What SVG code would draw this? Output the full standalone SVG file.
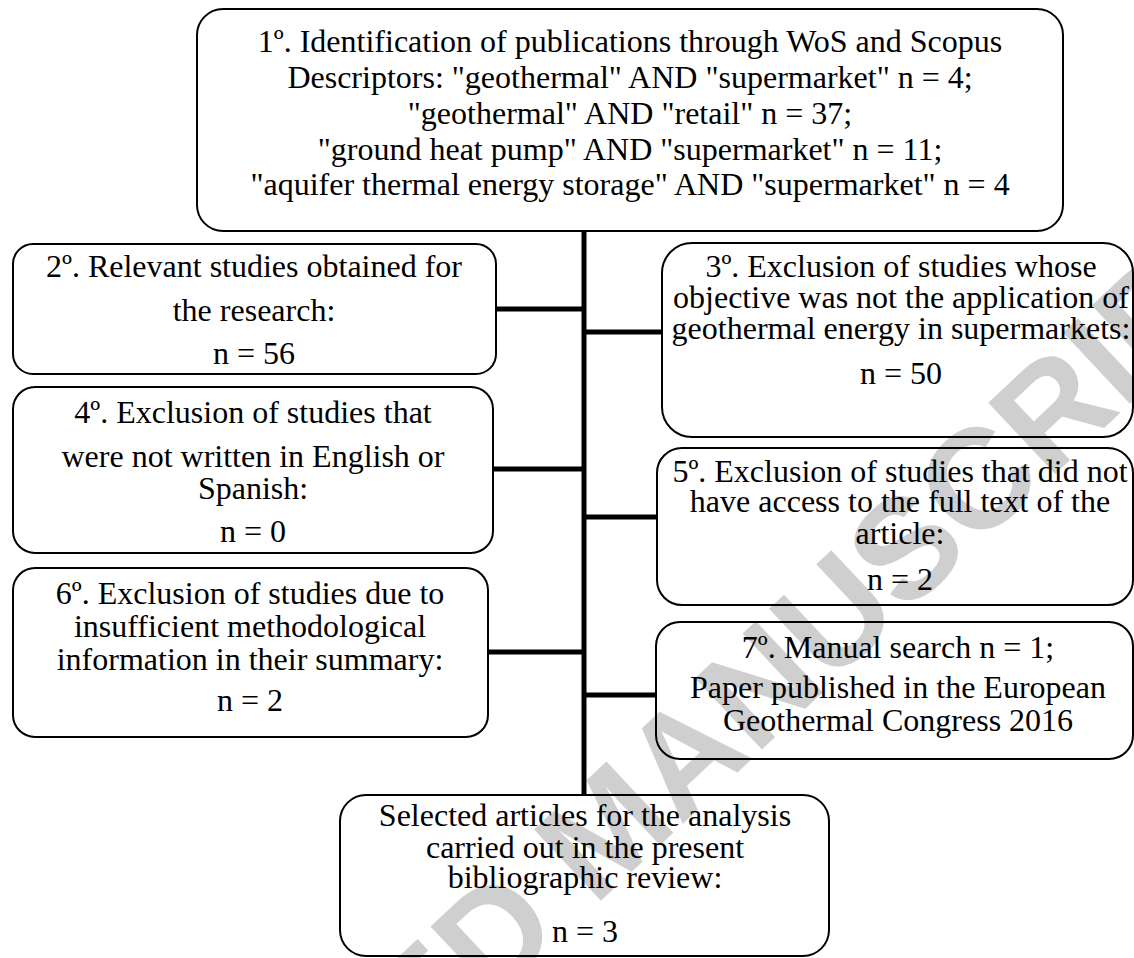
<svg xmlns="http://www.w3.org/2000/svg" width="1134" height="958" viewBox="0 0 1134 958">
<style>
.box{fill:none;stroke:#000;stroke-width:2}
.t{font-family:"Liberation Serif","Times New Roman",serif;font-size:32px;fill:#000;text-anchor:middle}
.c{stroke:#000;stroke-width:5;fill:none}
.wm{font-family:"Liberation Sans",Arial,sans-serif;font-weight:bold;font-size:142px;fill:#cfcfcf;text-anchor:middle}
</style>
<rect width="1134" height="958" fill="#fff"/>
<text class="wm" transform="translate(640,864) rotate(-43.2)">ACCEPTED MANUSCRIPT</text>
<g id="connectors">
<line class="c" x1="584" y1="231" x2="584" y2="795"/>
<line class="c" x1="496" y1="309" x2="584" y2="309"/>
<line class="c" x1="493" y1="469" x2="584" y2="469"/>
<line class="c" x1="488" y1="652" x2="584" y2="652"/>
<line class="c" x1="584" y1="332" x2="662" y2="332"/>
<line class="c" x1="584" y1="517" x2="657" y2="517"/>
<line class="c" x1="584" y1="695" x2="656" y2="695"/>
</g>
<g id="n1">
<rect class="box" x="197" y="9" width="866" height="222" rx="26"/>
<text class="t" x="630" y="52">1º. Identification of publications through WoS and Scopus</text>
<text class="t" x="630" y="88">Descriptors: "geothermal" AND "supermarket" n = 4;</text>
<text class="t" x="630" y="124">"geothermal" AND "retail" n = 37;</text>
<text class="t" x="630" y="160">"ground heat pump" AND "supermarket" n = 11;</text>
<text class="t" x="630" y="195">"aquifer thermal energy storage" AND "supermarket" n = 4</text>
</g>
<g id="n2">
<rect class="box" x="13" y="244" width="483" height="130" rx="20"/>
<text class="t" x="254" y="277">2º. Relevant studies obtained for</text>
<text class="t" x="254" y="321">the research:</text>
<text class="t" x="254" y="364">n = 56</text>
</g>
<g id="n4">
<rect class="box" x="13" y="387" width="480" height="166" rx="22"/>
<text class="t" x="253" y="423">4º. Exclusion of studies that</text>
<text class="t" x="253" y="467">were not written in English or</text>
<text class="t" x="253" y="499">Spanish:</text>
<text class="t" x="253" y="542">n = 0</text>
</g>
<g id="n6">
<rect class="box" x="13" y="568" width="475" height="169" rx="22"/>
<text class="t" x="250" y="604">6º. Exclusion of studies due to</text>
<text class="t" x="250" y="637">insufficient methodological</text>
<text class="t" x="250" y="670">information in their summary:</text>
<text class="t" x="250" y="711">n = 2</text>
</g>
<g id="n3">
<rect class="box" x="662" y="243" width="471" height="194" rx="30"/>
<text class="t" x="901" y="277">3º. Exclusion of studies whose</text>
<text class="t" x="901" y="308">objective was not the application of</text>
<text class="t" x="901" y="339">geothermal energy in supermarkets:</text>
<text class="t" x="901" y="384">n = 50</text>
</g>
<g id="n5">
<rect class="box" x="657" y="448" width="476" height="157" rx="25"/>
<text class="t" x="900" y="482">5º. Exclusion of studies that did not</text>
<text class="t" x="900" y="512">have access to the full text of the</text>
<text class="t" x="900" y="544">article:</text>
<text class="t" x="900" y="590">n = 2</text>
</g>
<g id="n7">
<rect class="box" x="656" y="622" width="477" height="137" rx="24"/>
<text class="t" x="898" y="658">7º. Manual search n = 1;</text>
<text class="t" x="898" y="698">Paper published in the European</text>
<text class="t" x="898" y="731">Geothermal Congress 2016</text>
</g>
<g id="n8">
<rect class="box" x="340" y="795" width="489" height="161" rx="26"/>
<text class="t" x="585" y="826">Selected articles for the analysis</text>
<text class="t" x="585" y="858">carried out in the present</text>
<text class="t" x="585" y="888">bibliographic review:</text>
<text class="t" x="585" y="942">n = 3</text>
</g>
</svg>
